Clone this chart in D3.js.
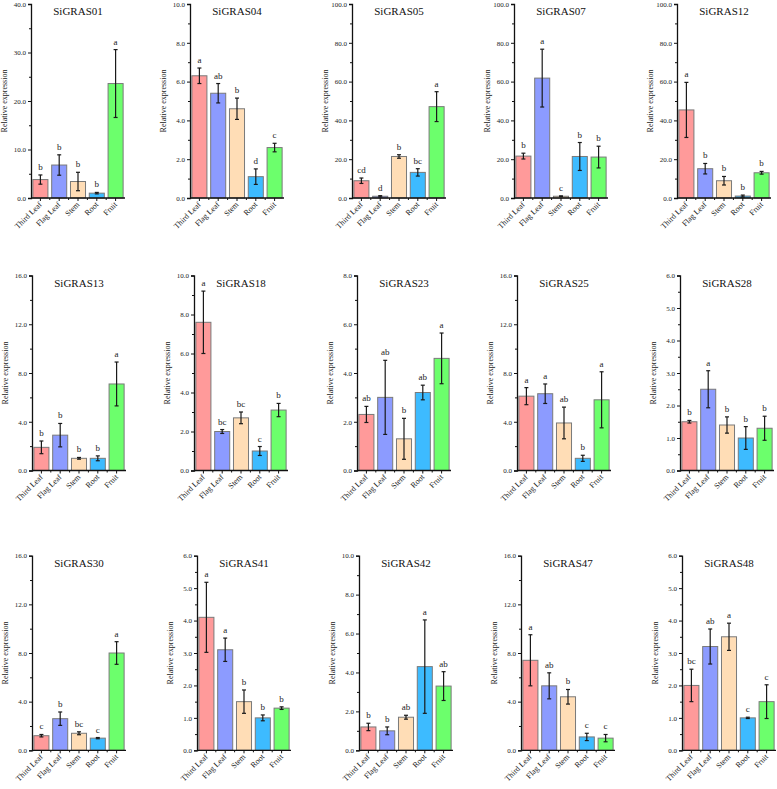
<!DOCTYPE html>
<html>
<head>
<meta charset="utf-8">
<script src="https://cdn.jsdelivr.net/npm/d3@7"></script>
<style>
  html, body { margin: 0; padding: 0; background: #fff; }
  svg { display: block; }
</style>
</head>
<body>
<svg id="chart" width="777" height="789"></svg>
<script>
// ---------------- DATA ----------------
const tissues = ["Third Leaf", "Flag Leaf", "Stem", "Root", "Fruit"];
const genes = ["SiGRAS01","SiGRAS04","SiGRAS05","SiGRAS07","SiGRAS12",
               "SiGRAS13","SiGRAS18","SiGRAS23","SiGRAS25","SiGRAS28",
               "SiGRAS30","SiGRAS41","SiGRAS42","SiGRAS47","SiGRAS48"];
const means = [
  [3.8, 6.8, 3.4, 1.0, 23.6],
  [6.3, 5.4, 4.6, 1.1, 2.6],
  [8.9, 0.9, 21.4, 13.2, 47.1],
  [21.6, 61.8, 0.9, 21.4, 21.1],
  [45.4, 15.1, 8.9, 1.0, 13.0],
  [1.9, 2.9, 1.0, 1.0, 7.1],
  [7.6, 2.0, 2.7, 1.0, 3.1],
  [2.3, 3.0, 1.3, 3.2, 4.6],
  [6.1, 6.3, 3.9, 1.0, 5.8],
  [1.5, 2.5, 1.4, 1.0, 1.3],
  [1.2, 2.6, 1.4, 1.0, 8.0],
  [4.1, 3.1, 1.5, 1.0, 1.3],
  [1.2, 1.0, 1.7, 4.3, 3.3],
  [7.4, 5.3, 4.4, 1.1, 1.0],
  [2.0, 3.2, 3.5, 1.0, 1.5]
];
const errors = [
  [0.95, 2.1, 1.9, 0.15, 7.0],
  [0.4, 0.5, 0.55, 0.4, 0.22],
  [1.4, 0.3, 0.9, 1.9, 7.7],
  [1.5, 14.9, 0.2, 7.2, 5.6],
  [14.2, 2.7, 2.2, 0.5, 0.7],
  [0.52, 0.96, 0.07, 0.2, 1.8],
  [1.6, 0.1, 0.3, 0.23, 0.34],
  [0.33, 1.52, 0.84, 0.3, 1.04],
  [0.7, 0.8, 1.3, 0.25, 2.3],
  [0.04, 0.57, 0.25, 0.35, 0.37],
  [0.1, 0.55, 0.12, 0.05, 0.93],
  [1.08, 0.36, 0.36, 0.09, 0.04],
  [0.19, 0.2, 0.1, 2.4, 0.74],
  [2.1, 1.07, 0.6, 0.3, 0.3],
  [0.5, 0.54, 0.42, 0.02, 0.52]
];
const letters = [
  ["b","b","b","b","a"],
  ["a","ab","b","d","c"],
  ["cd","d","b","bc","a"],
  ["b","a","c","b","b"],
  ["a","b","b","b","b"],
  ["b","b","b","b","a"],
  ["a","bc","bc","c","b"],
  ["ab","ab","b","ab","a"],
  ["a","a","ab","b","a"],
  ["b","a","b","b","b"],
  ["c","b","bc","c","a"],
  ["a","a","b","b","b"],
  ["b","b","ab","a","ab"],
  ["a","ab","b","c","c"],
  ["bc","ab","a","c","c"]
];
// y-axis maxima and major tick steps (tick labels)
const yMax  = [40, 10, 100, 100, 100, 16, 10, 8, 16, 6, 16, 6, 10, 16, 6];
const yStep = [10, 2, 20, 20, 20, 4, 2, 2, 4, 1, 4, 1, 2, 4, 1];

// ---------------- LAYOUT / STYLE ----------------
const FONT = "Liberation Serif";
const colors = ["#ff9a9a", "#8c9bff", "#ffddb6", "#3dbbff", "#6cff6c"];
const axisX  = [31, 190, 352, 514, 677, 32, 194, 357, 517, 680, 32, 197, 359, 521, 682];
const rowTop = [4, 275.5, 555.7];
const rowBase= [198, 470.5, 750.3];
const plotW = 94;

const svg = d3.select("#chart");

genes.forEach((g, i) => {
  const row = Math.floor(i / 5);
  const x0 = axisX[i], top = rowTop[row], base = rowBase[row];
  const gp = svg.append("g").attr("transform", `translate(${x0},0)`);

  const x = d3.scaleBand().domain(tissues).range([0, plotW]).paddingInner(0.2).paddingOuter(0.1);
  const y = d3.scaleLinear().domain([0, yMax[i]]).range([base, top]);

  // bars
  gp.selectAll("rect.bar").data(tissues).enter().append("rect")
    .attr("class", "bar")
    .attr("x", d => x(d))
    .attr("width", x.bandwidth())
    .attr("y", (d, j) => y(means[i][j]))
    .attr("height", (d, j) => base - y(means[i][j]))
    .attr("fill", (d, j) => colors[j])
    .attr("stroke", "#7a7a7a")
    .attr("stroke-width", 1);

  // error bars
  const cx = d => x(d) + x.bandwidth() / 2;
  const eb = gp.selectAll("g.err").data(tissues).enter().append("g").attr("class", "err");
  eb.append("line")
    .attr("x1", cx).attr("x2", cx)
    .attr("y1", (d, j) => y(Math.max(0, means[i][j] - errors[i][j])))
    .attr("y2", (d, j) => y(means[i][j] + errors[i][j]))
    .attr("stroke", "#1a1a1a").attr("stroke-width", 1.2);
  [(j) => means[i][j] + errors[i][j], (j) => Math.max(0, means[i][j] - errors[i][j])].forEach(fn => {
    eb.append("line")
      .attr("x1", d => cx(d) - 2).attr("x2", d => cx(d) + 2)
      .attr("y1", (d, j) => y(fn(j))).attr("y2", (d, j) => y(fn(j)))
      .attr("stroke", "#1a1a1a").attr("stroke-width", 1.2);
  });

  // significance letters
  gp.selectAll("text.sig").data(tissues).enter().append("text")
    .attr("class", "sig")
    .attr("x", cx)
    .attr("y", (d, j) => y(means[i][j] + errors[i][j]) - 5)
    .attr("text-anchor", "middle")
    .attr("font-family", FONT).attr("font-size", 9).attr("fill", "#222")
    .text((d, j) => letters[i][j]);

  // y axis
  const majors = d3.range(0, yMax[i] + yStep[i] / 2, yStep[i]);
  const minors = d3.range(yStep[i] / 2, yMax[i], yStep[i]);
  const yAxis = d3.axisLeft(y).tickValues(majors).tickFormat(d3.format(".1f")).tickSize(3).tickPadding(2);
  const ya = gp.append("g").call(yAxis).attr("font-family", FONT);
  ya.select(".domain").attr("stroke", "#111").attr("stroke-width", 1.3);
  ya.selectAll(".tick line").attr("stroke", "#111").attr("stroke-width", 1);
  ya.selectAll(".tick text").attr("font-size", 7).attr("fill", "#222");
  const yMinor = d3.axisLeft(y).tickValues(minors).tickFormat("").tickSize(2);
  const ym = gp.append("g").call(yMinor);
  ym.select(".domain").remove();
  ym.selectAll(".tick line").attr("stroke", "#111");

  // x axis
  const xAxis = d3.axisBottom(x).tickSize(3).tickFormat("");
  const xa = gp.append("g").attr("transform", `translate(0,${base})`).call(xAxis);
  xa.select(".domain").attr("stroke", "#111").attr("stroke-width", 1.3).attr("d", `M0,0H${plotW}`);
  xa.selectAll(".tick line").attr("stroke", "#111");
  gp.selectAll("line.xminor").data(tissues.slice(0, 4)).enter().append("line")
    .attr("class", "xminor")
    .attr("x1", d => cx(d) + x.step() / 2).attr("x2", d => cx(d) + x.step() / 2)
    .attr("y1", base).attr("y2", base + 2).attr("stroke", "#111");

  // x category labels
  gp.selectAll("text.cat").data(tissues).enter().append("text")
    .attr("class", "cat")
    .attr("transform", d => `translate(${cx(d) + 2},${base + 7}) rotate(-45)`)
    .attr("text-anchor", "end")
    .attr("font-family", FONT).attr("font-size", 8).attr("fill", "#222")
    .text(d => d);

  // y label
  gp.append("text")
    .attr("transform", `translate(-24,${(top + base) / 2}) rotate(-90)`)
    .attr("text-anchor", "middle")
    .attr("font-family", FONT).attr("font-size", 8).attr("fill", "#222")
    .text("Relative expression");

  // title
  gp.append("text")
    .attr("x", plotW / 2)
    .attr("y", top + 11)
    .attr("text-anchor", "middle")
    .attr("font-family", FONT).attr("font-size", 11).attr("fill", "#111")
    .text(g);
});
</script>
</body>
</html>
